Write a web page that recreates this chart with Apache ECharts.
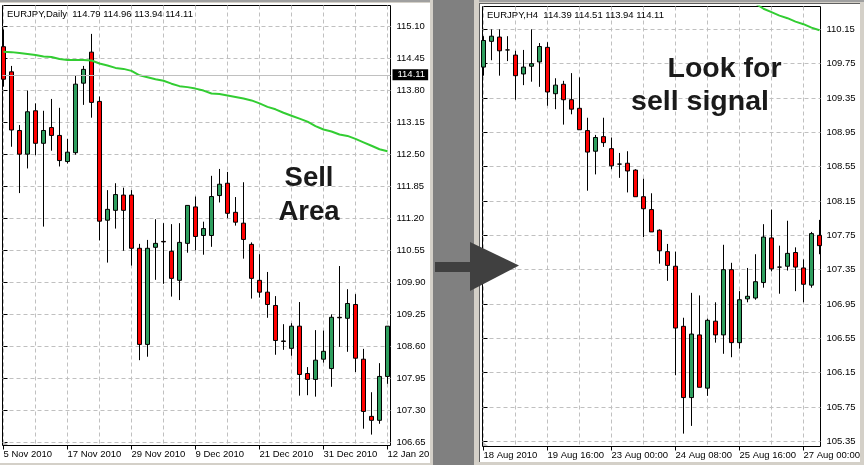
<!DOCTYPE html>
<html>
<head>
<meta charset="utf-8">
<style>html,body{margin:0;padding:0;background:#d4d0c8}#main{width:864px;height:465px}</style>
<script src="https://cdn.jsdelivr.net/npm/echarts@6/dist/echarts.min.js"></script>
</head>
<body>
<div id="main"></div>
<script>
// EURJPY Daily, index order left to right
var dailyOpen = [114.68,114.17,112.98,112.50,113.38,112.72,113.04,112.88,112.35,112.53,113.94,114.57,113.57,111.16,111.36,111.67,111.67,110.59,108.64,110.61,110.73,110.53,109.94,110.69,111.43,110.85,110.85,111.66,111.91,111.32,111.10,110.67,109.94,109.70,109.43,108.71,108.56,109.01,108.05,107.93,108.34,108.15,109.19,109.17,109.45,108.34,107.18,107.10,107.99];
var dailyClose = [114.02,112.99,112.50,113.36,112.72,112.98,112.88,112.37,112.54,113.92,114.22,113.55,111.14,111.38,111.68,111.36,110.59,108.64,110.59,110.69,110.72,109.98,110.71,111.46,110.83,110.99,111.64,111.89,111.30,111.12,110.77,109.98,109.70,109.45,108.72,108.70,109.01,108.03,107.93,108.32,108.50,109.19,109.18,109.47,108.36,107.28,107.10,107.99,109.01];
var dailyLow = [113.87,112.65,111.71,112.21,112.48,111.03,112.57,112.25,112.31,112.49,113.50,113.24,110.75,110.30,110.99,110.54,110.24,108.32,108.39,109.95,109.87,109.61,109.54,110.50,110.55,110.46,110.62,111.52,111.20,111.05,110.38,109.57,109.59,109.18,108.43,108.53,108.41,107.60,107.61,107.58,108.27,107.78,108.59,108.49,108.08,106.93,106.81,107.03,107.84];
var dailyHigh = [115.03,114.29,113.09,113.79,113.53,113.38,113.62,113.44,112.81,114.09,114.29,114.94,113.67,111.77,111.91,111.82,111.77,110.68,110.76,111.18,111.10,111.08,111.10,111.46,111.64,111.13,112.06,112.20,112.14,111.63,111.93,110.71,110.47,110.11,109.62,109.05,109.07,109.50,108.18,108.93,108.92,109.25,110.23,109.76,109.66,108.55,107.67,108.26,109.01];
var dailyMa = [114.58,114.57,114.55,114.53,114.51,114.48,114.47,114.43,114.41,114.41,114.41,114.40,114.34,114.30,114.25,114.23,114.19,114.10,114.06,114.02,113.99,113.93,113.88,113.86,113.83,113.79,113.73,113.72,113.69,113.66,113.63,113.59,113.53,113.46,113.41,113.34,113.28,113.22,113.16,113.07,113.00,112.96,112.90,112.87,112.81,112.74,112.67,112.60,112.56];
var dailyPriceTicks = [115.10,114.45,113.80,113.15,112.50,111.85,111.20,110.55,109.90,109.25,108.60,107.95,107.30,106.65];
var dailyDateTicks = [0,8,16,24,32,40,48];
var dailyDateLabels = ['5 Nov 2010','17 Nov 2010','29 Nov 2010','9 Dec 2010','21 Dec 2010','31 Dec 2010','12 Jan 2011'];
var dailyGridTicks = [0,4,8,12,16,20,24,28,32,36,40,44,48];
var lastPrice = 114.11;

// EURJPY H4
var h4Open = [109.71,110.01,110.06,109.91,109.85,109.63,109.72,109.77,109.94,109.40,109.51,109.33,109.23,108.97,108.73,108.90,108.76,108.58,108.59,108.51,108.20,108.05,107.81,107.56,107.39,106.69,105.86,106.59,105.97,106.75,106.59,107.35,106.50,107.01,107.02,107.20,107.72,107.38,107.39,107.55,107.37,107.17,107.75];
var h4Close = [110.02,110.07,109.90,109.91,109.61,109.71,109.75,109.95,109.42,109.50,109.33,109.22,108.98,108.72,108.89,108.83,108.56,108.58,108.50,108.20,108.06,107.79,107.57,107.40,106.67,105.86,106.60,105.98,106.76,106.59,107.35,106.50,107.00,107.04,107.21,107.73,107.36,107.38,107.54,107.38,107.18,107.77,107.63];
var h4Low = [109.61,109.79,109.61,109.78,109.33,109.50,109.54,109.48,109.26,109.22,109.04,109.16,108.98,108.27,108.46,108.78,108.52,108.42,108.25,108.20,107.73,107.79,107.42,107.22,106.12,105.44,105.53,105.98,105.88,106.50,106.37,106.33,106.43,106.97,107.00,107.14,107.33,107.07,107.34,107.10,106.97,107.14,107.53];
var h4High = [110.07,110.15,110.15,110.07,109.90,109.91,110.15,109.99,110.00,109.58,109.55,109.64,109.59,109.12,108.92,109.12,108.89,108.71,108.73,108.52,108.41,108.24,107.82,107.65,107.56,106.79,107.08,107.05,106.78,106.97,107.64,107.43,107.10,107.37,107.53,107.88,108.05,107.63,107.92,107.61,107.47,107.79,107.93];
var h4MaIndex = [33,34,35,36,37,38,39,40,41,42];
var h4Ma = [110.49,110.45,110.39,110.35,110.31,110.28,110.24,110.21,110.17,110.14];
var h4PriceTicks = [110.15,109.75,109.35,108.95,108.55,108.15,107.75,107.35,106.95,106.55,106.15,105.75,105.35];
var h4DateTicks = [0,8,16,24,32,40];
var h4DateLabels = ['18 Aug 2010','19 Aug 16:00','23 Aug 00:00','24 Aug 08:00','25 Aug 16:00','27 Aug 00:00'];
var h4GridTicks = [0,4,8,12,16,20,24,28,32,36,40];

var FONT = '"Liberation Sans", Arial, sans-serif';
var GREEN = '#2e9e5e', RED = '#ff0000';

function candles(o, c, l, h) {
  return o.map(function (v, i) { return [i, v, c[i], l[i], h[i]]; });
}
function xAxes(gridIndex, min, max, ticks, labels, gridTicks) {
  return [
    {
      type: 'value', gridIndex: gridIndex, min: min, max: max,
      axisLine: { show: false },
      axisTick: { show: true, length: 4, customValues: ticks, lineStyle: { color: '#000', width: 1 } },
      axisLabel: {
        show: true, customValues: ticks, align: 'left', margin: 4, color: '#000', fontFamily: FONT, fontSize: 9.5,
        formatter: function (v) { return labels[ticks.indexOf(v)]; }
      },
      splitLine: { show: false }
    },
    {
      type: 'value', gridIndex: gridIndex, min: min, max: max,
      axisLine: { show: false },
      axisTick: { show: false, customValues: gridTicks },
      axisLabel: { show: false },
      splitLine: { show: true, lineStyle: { color: '#c0c0c0', type: [4, 3], width: 1 } }
    }
  ];
}
function yAxis(gridIndex, min, max, ticks) {
  return {
    type: 'value', gridIndex: gridIndex, position: 'right', min: min, max: max, scale: true,
    axisLine: { show: false },
    axisTick: { show: true, length: 4, customValues: ticks, lineStyle: { color: '#000', width: 1 } },
    axisLabel: {
      show: true, customValues: ticks, margin: 6, color: '#000', fontFamily: FONT, fontSize: 9.5,
      formatter: function (v) { return v.toFixed(2); }
    },
    splitLine: { show: true, lineStyle: { color: '#c0c0c0', type: [4, 3], width: 1 } }
  };
}
function candleSeries(idx, data, extra) {
  var s = {
    type: 'candlestick', xAxisIndex: idx, yAxisIndex: idx / 2, barWidth: 4, data: data, silent: true,
    itemStyle: { color: GREEN, color0: RED, borderColor: '#000', borderColor0: '#000', borderColorDoji: '#000', borderWidth: 1 }
  };
  return Object.assign(s, extra || {});
}
function maSeries(idx, points) {
  return {
    type: 'line', xAxisIndex: idx, yAxisIndex: idx / 2, data: points, showSymbol: false, silent: true, clip: true,
    lineStyle: { color: '#32cd32', width: 2 }
  };
}
function bigText(text, x, y, size) {
  return {
    type: 'text', z: 40,
    style: { text: text, x: x, y: y, textAlign: 'center', textVerticalAlign: 'bottom', fontFamily: FONT, fontSize: size, fontWeight: 'bold', fill: '#1a1a1a' }
  };
}
function panel(x, y, w, h, color, z) {
  return { type: 'rect', z: z, shape: { x: x, y: y, width: w, height: h }, style: { fill: color } };
}

var chart = echarts.init(document.getElementById('main'), null, { renderer: 'canvas' });
var option = {
  animation: false,
  backgroundColor: '#d4d0c8',
  title: [
    { text: 'EURJPY,Daily  114.79 114.96 113.94 114.11', left: 7, top: 9, padding: 0, textStyle: { fontFamily: FONT, fontSize: 9.5, fontWeight: 'normal', color: '#000' } },
    { text: 'EURJPY,H4  114.39 114.51 113.94 114.11', left: 487, top: 10, padding: 0, textStyle: { fontFamily: FONT, fontSize: 9.5, fontWeight: 'normal', color: '#000' } }
  ],
  grid: [
    { left: 2.5, top: 5.5, width: 388, height: 440, show: true, backgroundColor: '#fff', borderColor: '#000', borderWidth: 1 },
    { left: 482.5, top: 6.5, width: 338, height: 440, show: true, backgroundColor: '#fff', borderColor: '#000', borderWidth: 1 }
  ],
  xAxis: xAxes(0, -0.125, 48.375, dailyDateTicks, dailyDateLabels, dailyGridTicks)
    .concat(xAxes(1, -0.125, 42.125, h4DateTicks, h4DateLabels, h4GridTicks)),
  yAxis: [
    yAxis(0, 106.589, 115.516, dailyPriceTicks),
    yAxis(1, 105.29, 110.416, h4PriceTicks)
  ],
  series: [
    candleSeries(0, candles(dailyOpen, dailyClose, dailyLow, dailyHigh), {
      markLine: {
        silent: true, symbol: 'none', animation: false,
        lineStyle: { color: '#c0c0c0', type: 'solid', width: 1 },
        label: {
          position: 'end', distance: 2, formatter: lastPrice.toFixed(2), color: '#fff', backgroundColor: '#000',
          fontFamily: FONT, fontSize: 9.5, padding: [1, 3, 0, 5]
        },
        data: [{ yAxis: lastPrice }]
      }
    }),
    maSeries(0, dailyMa.map(function (v, i) { return [i, v]; })),
    candleSeries(2, candles(h4Open, h4Close, h4Low, h4High)),
    maSeries(2, h4Ma.map(function (v, i) { return [h4MaIndex[i], v]; }))
  ],
  graphic: [
    panel(0, 3, 430, 460, '#fff', -10),
    panel(480, 4, 380, 458, '#fff', -10),
    panel(0, 0, 430, 2, '#a0a0a0', -10),
    panel(479, 0, 385, 2, '#a0a0a0', -10),
    panel(479, 3, 1, 459, '#606060', -9),
    panel(479, 3, 381, 1, '#606060', -9),
    panel(430, 0, 3, 465, '#d4d0c8', 50),
    panel(433, 0, 41, 465, '#808080', 50),
    panel(435, 262, 36, 10, '#404040', 60),
    { type: 'polygon', z: 60, shape: { points: [[470, 242], [519, 265.5], [470, 291]] }, style: { fill: '#404040' } },
    { type: 'polygon', z: 5, shape: { points: [[3, 441], [8, 445], [3, 445]] }, style: { fill: '#c0c0c0' } },
    { type: 'polygon', z: 5, shape: { points: [[483, 442], [488, 446], [483, 446]] }, style: { fill: '#c0c0c0' } },
    bigText('Sell', 309, 192, 27.5),
    bigText('Area', 309, 226, 27.5),
    bigText('Look for', 724.5, 84, 28.5),
    bigText('sell signal', 700, 117, 28.5)
  ]
};
chart.setOption(option);
</script>
</body>
</html>
